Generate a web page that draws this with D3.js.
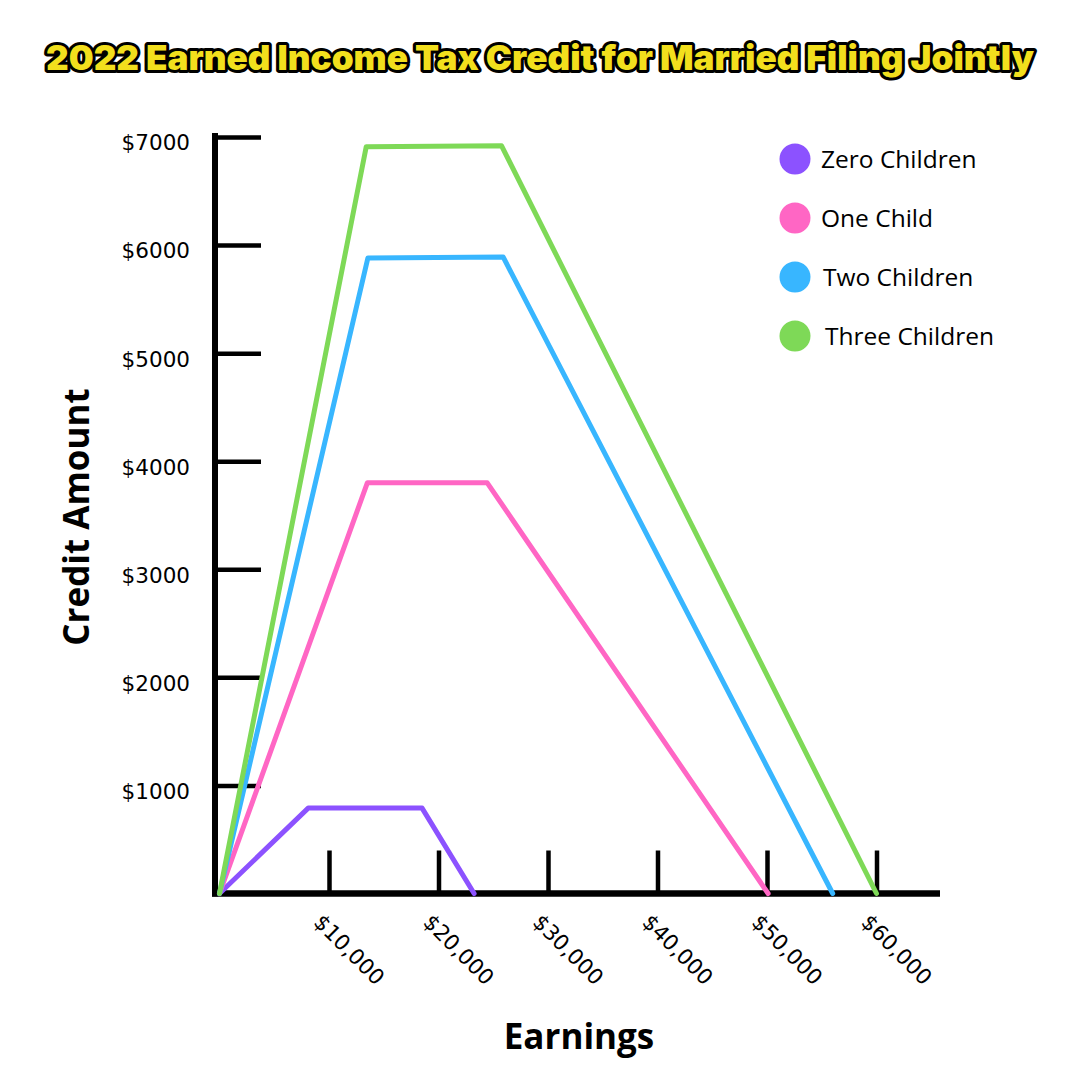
<!DOCTYPE html>
<html>
<head>
<meta charset="utf-8">
<script src="https://cdn.jsdelivr.net/npm/d3@7"></script>
<style>
  html, body { margin: 0; padding: 0; background: #fff; }
  svg { display: block; }
</style>
</head>
<body>
<svg id="chart" width="1080" height="1080"></svg>
<script>
// ---- Data ----
const seriesNames = ["Zero Children", "One Child", "Two Children", "Three Children"];
const seriesColors = ["#8C52FF", "#FF66C4", "#38B6FF", "#7ED957"];
const zeroChildren  = [[0, 0], [8100, 790], [18500, 790], [23250, 0]];
const oneChild      = [[0, 0], [13500, 3800], [24450, 3800], [50100, 0]];
const twoChildren   = [[0, 0], [13550, 5880], [25900, 5890], [56000, 0]];
const threeChildren = [[0, 0], [13400, 6910], [25750, 6920], [60000, 0]];
const yTickValues = [1000, 2000, 3000, 4000, 5000, 6000, 7000];
const yTickLabels = ["$1000", "$2000", "$3000", "$4000", "$5000", "$6000", "$7000"];
const xTickValues = [10000, 20000, 30000, 40000, 50000, 60000];
const xTickLabels = ["$10,000", "$20,000", "$30,000", "$40,000", "$50,000", "$60,000"];
const allSeries = [zeroChildren, oneChild, twoChildren, threeChildren];

// ---- Layout ----
const svg = d3.select("#chart");
const x = d3.scaleLinear().domain([0, 60000]).range([219.5, 876.5]);
const y = d3.scaleLinear().domain([0, 7000]).range([893.5, 137]);
const labelFont = "'DejaVu Sans', 'Open Sans', sans-serif";

// Title
svg.append("text")
  .attr("x", 540).attr("y", 70)
  .attr("text-anchor", "middle")
  .attr("font-family", "Inter, 'DejaVu Sans', sans-serif")
  .attr("font-weight", 900)
  .attr("font-size", 34)
  .attr("textLength", 988)
  .attr("lengthAdjust", "spacingAndGlyphs")
  .attr("fill", "#F2DF1D")
  .attr("stroke", "#000")
  .attr("stroke-width", 6)
  .attr("stroke-linejoin", "round")
  .attr("paint-order", "stroke")
  .text("2022 Earned Income Tax Credit for Married Filing Jointly");

// Y axis
const yAxis = d3.axisLeft(y)
  .tickValues(yTickValues)
  .tickFormat((d, i) => yTickLabels[i])
  .tickSize(-46)
  .tickPadding(25);
const gy = svg.append("g").attr("transform", "translate(215,0)").call(yAxis);
gy.select(".domain").remove();
gy.selectAll(".tick line").attr("stroke", "#000").attr("stroke-width", 4.5);
gy.selectAll(".tick text")
  .attr("font-family", labelFont)
  .attr("font-size", 21.5)
  .attr("fill", "#000")
  .attr("dy", "0.6em");

// X axis
const xAxis = d3.axisBottom(x)
  .tickValues(xTickValues)
  .tickFormat((d, i) => xTickLabels[i])
  .tickSize(-43)
  .tickPadding(0);
const gx = svg.append("g").attr("transform", `translate(0,${y(0)})`).call(xAxis);
gx.select(".domain").remove();
gx.selectAll(".tick line").attr("stroke", "#000").attr("stroke-width", 4.5);
gx.selectAll(".tick text")
  .attr("font-family", labelFont)
  .attr("font-size", 21.5)
  .attr("fill", "#000")
  .attr("text-anchor", "start")
  .attr("transform", "translate(-17,30) rotate(45)")
  .attr("y", 0).attr("dy", "0");

// Axis lines
svg.append("line")
  .attr("x1", 215).attr("x2", 215)
  .attr("y1", 133).attr("y2", y(0) + 3)
  .attr("stroke", "#000").attr("stroke-width", 6);
svg.append("line")
  .attr("x1", 212).attr("x2", 940)
  .attr("y1", y(0)).attr("y2", y(0))
  .attr("stroke", "#000").attr("stroke-width", 6.5);

// Lines
const line = d3.line().x(d => x(d[0])).y(d => y(d[1]));
svg.append("g").selectAll("path")
  .data(allSeries)
  .join("path")
  .attr("d", line)
  .attr("fill", "none")
  .attr("stroke", (d, i) => seriesColors[i])
  .attr("stroke-width", 5)
  .attr("stroke-linejoin", "round")
  .attr("stroke-linecap", "round");

// Axis titles
svg.append("text")
  .attr("transform", "translate(89,517) rotate(-90)")
  .attr("text-anchor", "middle")
  .attr("font-family", "'Open Sans', Lato, sans-serif")
  .attr("font-weight", 700)
  .attr("font-size", 35)
  .attr("fill", "#000")
  .text("Credit Amount");
svg.append("text")
  .attr("x", 579).attr("y", 1049)
  .attr("text-anchor", "middle")
  .attr("font-family", "'Open Sans', Lato, sans-serif")
  .attr("font-weight", 700)
  .attr("font-size", 35)
  .attr("fill", "#000")
  .text("Earnings");

// Legend
const legend = svg.append("g").selectAll("g")
  .data(seriesNames)
  .join("g")
  .attr("transform", (d, i) => `translate(795,${159 + i * 59})`);
legend.append("circle")
  .attr("r", 15.5)
  .attr("fill", (d, i) => seriesColors[i]);
legend.append("text")
  .attr("x", (d, i) => 26 + (i >= 2 ? 2 : 0) + (i === 3 ? 2 : 0))
  .attr("y", 8.5)
  .attr("font-family", "'Open Sans', Lato, sans-serif")
  .attr("font-size", 24.5)
  .attr("fill", "#000")
  .text(d => d);
</script>
</body>
</html>
